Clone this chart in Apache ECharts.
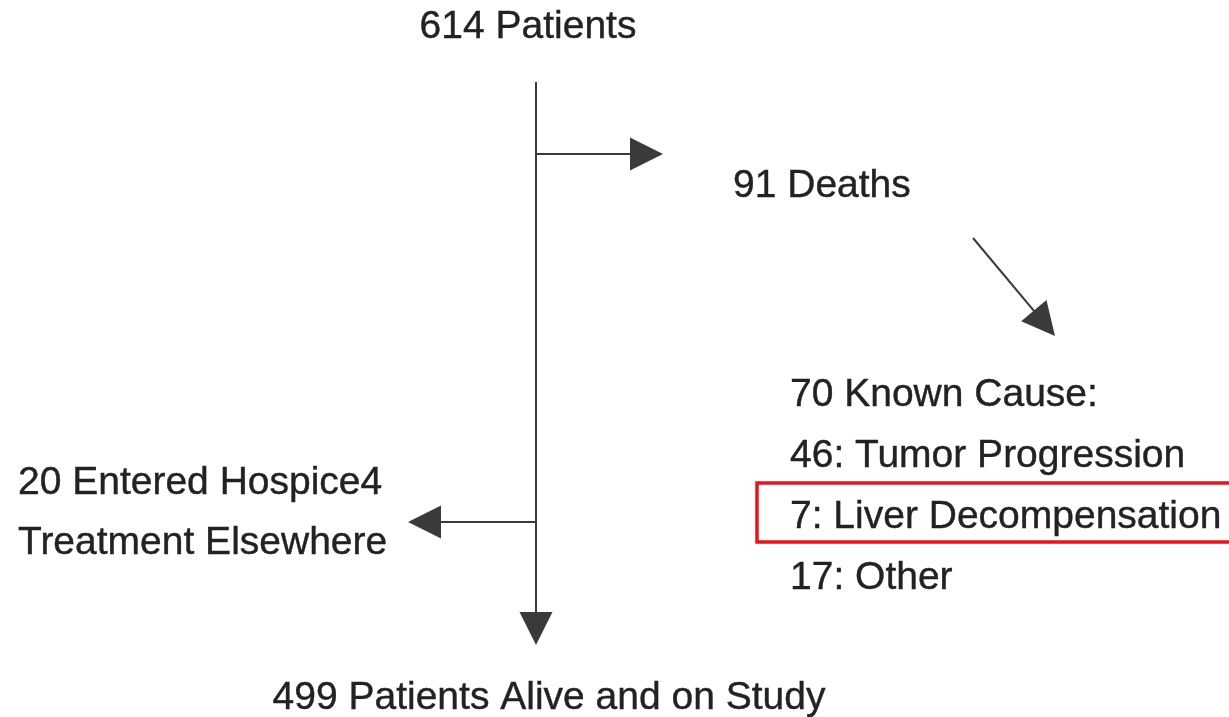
<!DOCTYPE html>
<html>
<head>
<meta charset="utf-8">
<script src="https://cdn.jsdelivr.net/npm/echarts@6/dist/echarts.min.js"></script>
<style>html,body{margin:0;padding:0;background:#fff}#c{width:1229px;height:717px}</style>
</head>
<body>
<div id="c"></div>
<script>
// Flowchart boxes (text nodes) and their anchor positions in page units
const nodeLabels = ['614 Patients', '91 Deaths', '70 Known Cause:', '46: Tumor Progression',
  '7: Liver Decompensation', '17: Other', '20 Entered Hospice4', 'Treatment Elsewhere',
  '499 Patients Alive and on Study'];
const nodeX = [528, 733, 790, 790, 790, 790, 18, 18, 549];
const nodeY = [27, 186, 395, 456, 517, 578, 483, 543, 698];
const nodeAlign = ['center', 'left', 'left', 'left', 'left', 'left', 'left', 'left', 'center'];

// Arrows: start point and arrow-tip point
const arrowStart = [[536, 82], [536, 154], [536, 522], [973, 238]];
const arrowTip = [[536, 645], [663, 154], [408, 522], [1055, 336]];

// Highlight box around "7: Liver Decompensation" (runs off the right edge)
const highlightBox = [[757, 483], [1245, 542]];

const HEAD = 33;
const lineData = arrowStart.map((s, i) => {
  const t = arrowTip[i];
  const dx = t[0] - s[0], dy = t[1] - s[1];
  const len = Math.sqrt(dx * dx + dy * dy);
  const end = [t[0] - dx / len * HEAD / 2, t[1] - dy / len * HEAD / 2];
  return { coords: [s, end] };
});

const chart = echarts.init(document.getElementById('c'));
chart.setOption({
  backgroundColor: '#fff',
  animation: false,
  grid: { left: 0, top: 0, right: -21, bottom: 0, outerBoundsMode: 'none' },
  xAxis: { type: 'value', min: 0, max: 1250, show: false },
  yAxis: { type: 'value', min: 0, max: 717, inverse: true, show: false },
  series: [
    {
      type: 'lines',
      coordinateSystem: 'cartesian2d',
      symbol: ['none', 'triangle'],
      symbolSize: HEAD,
      lineStyle: { color: '#3a3a3a', width: 2, opacity: 1 },
      itemStyle: { color: '#1c1c1c' },
      data: lineData,
      z: 2
    },
    {
      type: 'scatter',
      symbolSize: 0,
      silent: true,
      clip: false,
      itemStyle: { opacity: 1 },
      data: nodeLabels.map((n, i) => ({
        value: [nodeX[i], nodeY[i]],
        name: n,
        label: { align: nodeAlign[i] }
      })),
      label: {
        show: true,
        position: 'inside',
        formatter: p => p.name,
        color: '#222',
        textBorderColor: '#222',
        textBorderWidth: 0.4,
        fontSize: 39,
        fontFamily: '"Liberation Sans", Arial, sans-serif',
        verticalAlign: 'middle'
      },
      markArea: {
        silent: true,
        itemStyle: { color: 'rgba(0,0,0,0)', borderColor: '#e8141b', borderWidth: 3.5, opacity: 1 },
        data: [[{ coord: highlightBox[0] }, { coord: highlightBox[1] }]]
      },
      z: 3
    }
  ]
});
</script>
</body>
</html>
